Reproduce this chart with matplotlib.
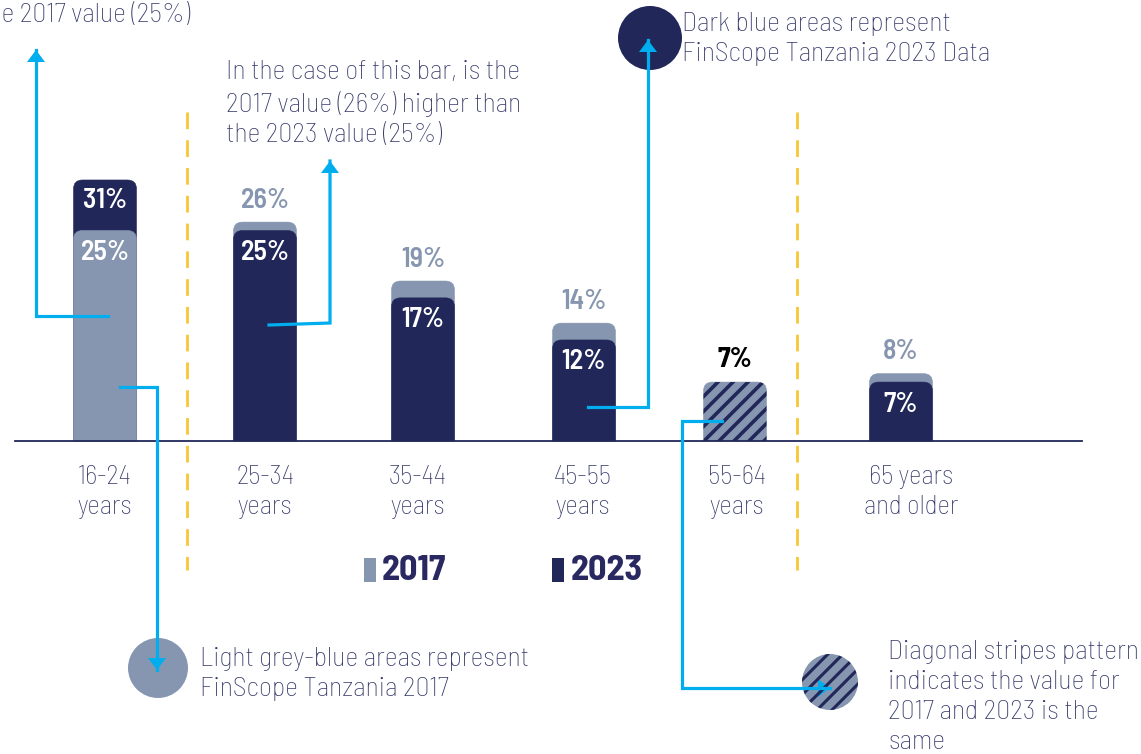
import math
import numpy as np
import matplotlib.pyplot as plt
from matplotlib.patches import Rectangle, Circle, Polygon, PathPatch
from matplotlib.path import Path

# Дані: частка за віковими групами, FinScope Tanzania 2017 та 2023
categories = ['16-24\nyears', '25-34\nyears', '35-44\nyears', '45-55\nyears', '55-64\nyears', '65 years\nand older']
values_2017 = [25, 26, 19, 14, 7, 8]
values_2023 = [31, 25, 17, 12, 7, 7]
series_names = ['2017', '2023']

# Розмітка (у пікселях)
W, H = 1141, 754
bar_x = [105, 265, 423, 584, 735, 901]
label_x = [105, 265, 418, 583, 737, 911]
bar_w = 63
base_px = 441
px_per_pct = 8.42
pt = 100 / 72

grey = '#8796B0'
navy = '#212859'
text_c = '#363A6A'
legend_c = '#2A2861'
cyan = '#00AEEF'
yellow = '#F8C636'

plt.rcParams['font.family'] = ['Barlow Semi Condensed', 'Roboto Condensed', 'DejaVu Sans']

fig = plt.figure(figsize=(W / 100, H / 100), dpi=100)
ax = fig.add_axes([0, 0, 1, 1])
ax.set_xlim(0, W)
ax.set_ylim(-(H - base_px) / px_per_pct, base_px / px_per_pct)
ax.axis('off')

# накладний шар (пікселі, y вниз) для підписів, стрілок і смуг
ov = fig.add_axes([0, 0, 1, 1])
ov.set_xlim(0, W)
ov.set_ylim(H, 0)
ov.axis('off')


def rbar(x, v, color):
    # стовпчик із заокругленим верхом
    rx, ry = 9, 9 / px_per_pct
    x0, x1 = x - bar_w / 2, x + bar_w / 2
    verts = [(x0, 0), (x0, v - ry), (x0, v), (x0 + rx, v), (x1 - rx, v),
             (x1, v), (x1, v - ry), (x1, 0), (x0, 0)]
    codes = [Path.MOVETO, Path.LINETO, Path.CURVE3, Path.CURVE3, Path.LINETO,
             Path.CURVE3, Path.CURVE3, Path.LINETO, Path.CLOSEPOLY]
    p = PathPatch(Path(verts, codes), fc=color, ec=color, lw=0.4)
    ax.add_patch(p)
    return p


def stripes(patch, cx, cy, half, step=15, lw=2.6):
    for c in np.arange(-2 * half, 2 * half + step, step):
        ln, = ov.plot([cx - half, cx + half], [cy + c + half, cy + c - half],
                      color=navy, lw=lw, solid_capstyle='butt')
        ln.set_clip_path(patch)


lab = dict(ha='center', va='center', fontsize=20, fontweight='semibold', textcoords='offset points')
for x, v17, v23 in zip(bar_x, values_2017, values_2023):
    if v17 == v23:
        p = rbar(x, v17, grey)
        stripes(p, x + 4, base_px - 30, 40)
        ax.annotate(f'{v17}%', (x, v17), xytext=(0, 23 / pt), color='black',
                    **{**lab, 'fontweight': 'bold'})
    elif v23 > v17:
        rbar(x, v23, navy)
        rbar(x, v17, grey)
        ax.annotate(f'{v23}%', (x, v23), xytext=(0, -21 / pt), color='white', **lab)
        ax.annotate(f'{v17}%', (x, v17), xytext=(0, -22 / pt), color='white', **lab)
    else:
        rbar(x, v17, grey)
        rbar(x, v23, navy)
        ax.annotate(f'{v17}%', (x, v17), xytext=(0, 22 / pt), color=grey, **lab)
        ax.annotate(f'{v23}%', (x, v23), xytext=(0, -22 / pt), color='white', **lab)

ax.plot([15, 1082], [0, 0], color=navy, lw=1.3)

for x, c in zip(label_x, categories):
    ov.text(x, 492, c, ha='center', va='center', fontsize=19.5, fontweight='light',
            color=text_c, linespacing=1.27)

for xv in [187, 797]:
    ov.plot([xv, xv], [112, 570], color=yellow, lw=2, dashes=(6, 4))

# легенда
ov.add_patch(Rectangle((364, 558), 12, 24, fc=grey, lw=0))
ov.text(382, 571, series_names[0], ha='left', va='center', fontsize=26, fontweight='bold', color=legend_c)
ov.add_patch(Rectangle((552, 558), 12, 24, fc=navy, lw=0))
ov.text(571, 571, series_names[1], ha='left', va='center', fontsize=26, fontweight='bold', color=legend_c)

# кола-пояснення
ov.add_patch(Circle((650, 38), 32, fc=navy, lw=0))
ov.add_patch(Circle((158, 668), 30, fc=grey, lw=0))
hc = Circle((830, 682), 28, fc=grey, lw=0)
ov.add_patch(hc)
stripes(hc, 830, 682, 30, step=15, lw=2.2)


def arrow(pts, hw=9, hl=12):
    xs, ys = zip(*pts)
    ov.plot(xs, ys, color=cyan, lw=2.3, solid_joinstyle='miter')
    (x0, y0), (x1, y1) = pts[-2], pts[-1]
    n = math.hypot(x1 - x0, y1 - y0)
    ux, uy = (x1 - x0) / n, (y1 - y0) / n
    bx, by = x1 - ux * hl, y1 - uy * hl
    ov.add_patch(Polygon([(x1, y1), (bx - uy * hw, by + ux * hw), (bx + uy * hw, by - ux * hw)],
                         closed=True, fc=cyan, lw=0))


arrow([(108, 316), (36, 316), (36, 50)])
arrow([(269, 325), (330, 323), (330, 161)])
arrow([(588, 407), (648, 407), (648, 40)])
arrow([(120, 387), (157, 387), (157, 670)])
arrow([(722, 421), (682, 421), (682, 688), (830, 688)])

txt = dict(fontsize=20, fontweight='light', color=text_c, linespacing=1.32, ha='left')
ov.text(-20, 27, 'In the case of this bar, is the\n2023 value (31%) higher than\nthe 2017 value (25%)', va='bottom', **txt)
ov.text(226, 60, 'In the case of this bar, is the\n2017 value (26%) higher than\nthe 2023 value (25%)', va='top', **txt)
ov.text(682, 12, 'Dark blue areas represent\nFinScope Tanzania 2023 Data', va='top', **txt)
ov.text(200, 647, 'Light grey-blue areas represent\nFinScope Tanzania 2017', va='top', **txt)
ov.text(888, 640, 'Diagonal stripes pattern\nindicates the value for\n2017 and 2023 is the\nsame', va='top', **txt)

fig.savefig('out.png', dpi=100)
